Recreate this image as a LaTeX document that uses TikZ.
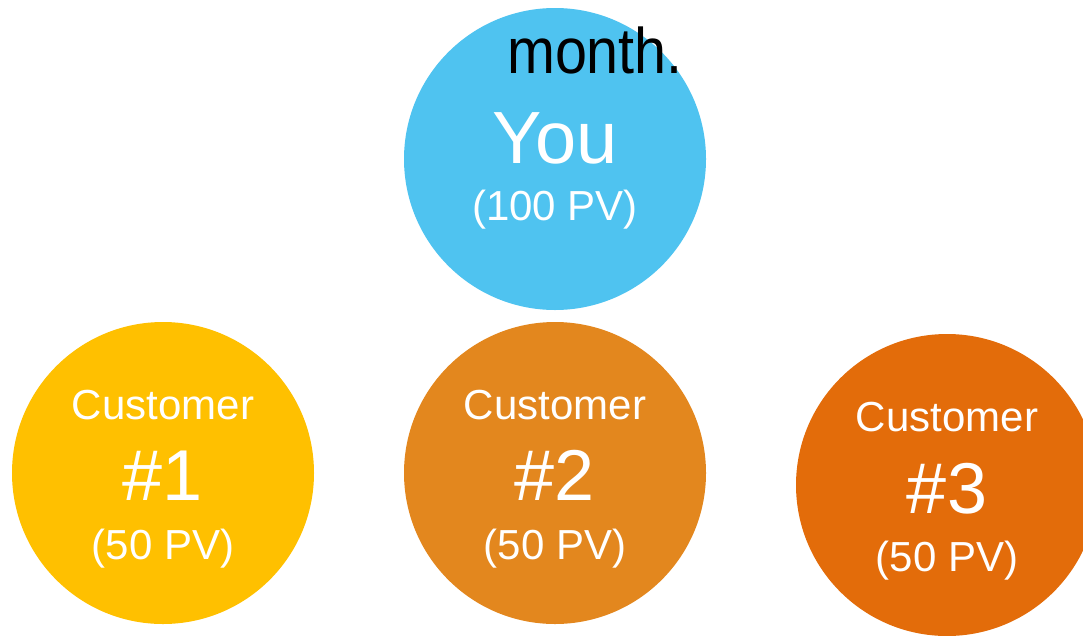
\documentclass[tikz,border=0pt]{standalone}
\usepackage{fontspec}
\setmainfont{Liberation Sans}
\definecolor{youblue}{HTML}{4FC3F0}
\definecolor{custone}{HTML}{FFC000}
\definecolor{custtwo}{HTML}{E3871E}
\definecolor{custthree}{HTML}{E36C0A}
\tikzset{
  bubble/.style={circle, minimum size=302pt, inner sep=0pt},
  small/.style={anchor=base, text=white, font=\fontsize{42}{42}\selectfont, inner sep=0pt},
  big/.style={anchor=base, text=white, font=\fontsize{72}{72}\selectfont, inner sep=0pt}
}
\begin{document}
\begin{tikzpicture}[x=1pt, y=-1pt]
    \useasboundingbox (0,0) rectangle (1083,635) ;
    \clip (0,0) rectangle (1083,635) ;
    % the four bubbles
    \node [bubble, fill=youblue] (you) at (555,159) {} ;
    \node [bubble, fill=custone] (c1) at (163,473) {} ;
    \node [bubble, fill=custtwo] (c2) at (555,473) {} ;
    \node [bubble, fill=custthree] (c3) at (947,485) {} ;
    % texts
    \node [anchor=base, inner sep=0pt, yscale=1.12, font=\fontsize{57.5}{57.5}\selectfont] (month) at (595,73) {month.} ;
    \node [anchor=base, inner sep=0pt, text=white, font=\fontsize{74}{74}\selectfont] (youtxt) at (555,163) {You} ;
    \node [small] (youpv) at (555,220) {(100 PV)} ;
    \node [small] (c1name) at (163,419) {Customer} ;
    \node [big] (c1num) at (163,500) {\#1} ;
    \node [small] (c1pv) at (163,559) {(50 PV)} ;
    \node [small] (c2name) at (555,419) {Customer} ;
    \node [big] (c2num) at (555,500) {\#2} ;
    \node [small] (c2pv) at (555,559) {(50 PV)} ;
    \node [small] (c3name) at (947,431) {Customer} ;
    \node [big] (c3num) at (947,513) {\#3} ;
    \node [small] (c3pv) at (947,571) {(50 PV)} ;
\end{tikzpicture}
\end{document}
